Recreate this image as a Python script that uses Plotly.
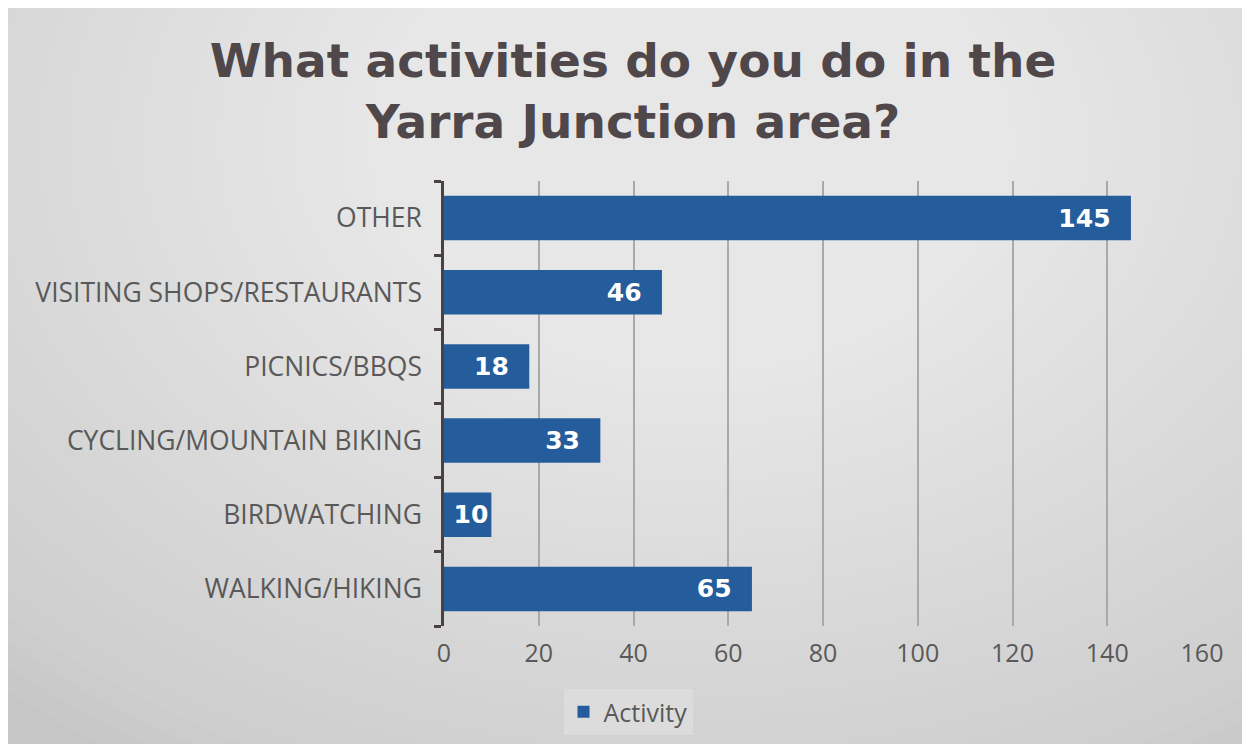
import plotly.graph_objects as go

categories = ["WALKING/HIKING", "BIRDWATCHING", "CYCLING/MOUNTAIN BIKING",
              "PICNICS/BBQS", "VISITING SHOPS/RESTAURANTS", "OTHER"]
values = [65, 10, 33, 18, 46, 145]
series_name = "Activity"
x_ticks = [0, 20, 40, 60, 80, 100, 120, 140, 160]
title_text = "What activities do you do in the<br>Yarra Junction area?"

W, H = 1250, 744
OX, OY = 7, 7  # page offset of the figure in the screenshot
L, R, T, B = 443 - OX, W - (1201 - OX), 180 - OY, H - (625 - OY)
PW, PH = W - L - R, H - T - B

def px(x):
    return (x - OX - L) / PW

def py(y):
    return (H - B - (y - OY)) / PH

shapes = []
cx, cy = 690, 140
n = 40
for i in range(n):
    rx = 1000 * (1 - i / n) + 25
    ry = rx * 0.72
    shapes.append(dict(type="circle", xref="paper", yref="paper", layer="below",
                       x0=px(cx - rx), x1=px(cx + rx), y0=py(cy + ry), y1=py(cy - ry),
                       fillcolor="rgba(255,255,255,0.04)", line=dict(width=0)))

fig = go.Figure(go.Bar(
    y=categories, x=values, orientation="h", name=series_name,
    marker=dict(color="#245c9c", line=dict(width=0)),
    text=[f"{v}\u00a0\u00a0" if v >= 15 else f"{v}" for v in values],
    textposition="inside", insidetextanchor="end", constraintext="none",
    textfont=dict(family="DejaVu Sans", size=25, color="white", weight="bold"),
    showlegend=True,
))

fig.update_layout(
    width=W, height=H,
    margin=dict(l=L, r=R, t=T, b=B, pad=0),
    paper_bgcolor="#c6c6c6", plot_bgcolor="rgba(0,0,0,0)",
    shapes=shapes,
    bargap=0.4,
    uniformtext=dict(mode=False),
    title=dict(text=title_text, x=(632 - OX) / W, xanchor="center",
               y=1 - (76 - OY) / H, yanchor="middle",
               xref="container", yref="container",
               font=dict(family="DejaVu Sans", size=47, color="#4f474a", weight="bold")),
    xaxis=dict(range=[0, 160], tickvals=x_ticks, showgrid=True, gridcolor="#a9a9a9",
               gridwidth=1.5, zeroline=False, showline=False, ticks="",
               tickfont=dict(family="Open Sans", size=25, color="#595959"),
               ticklabelstandoff=10, fixedrange=True),
    yaxis=dict(showline=True, linecolor="#4a4242", linewidth=2.5, ticks="outside",
               tickson="boundaries", ticklen=7, tickwidth=2.5, tickcolor="#4a4242",
               tickfont=dict(family="Open Sans", size=26.5, color="#595959"),
               ticklabelstandoff=14, fixedrange=True),
    legend=dict(orientation="h", x=px(627), xanchor="center", y=py(711), yanchor="middle",
                bgcolor="#dcdcdc", font=dict(family="Open Sans", size=25, color="#595959"),
                itemwidth=30),
)

fig.write_html("out.html")
